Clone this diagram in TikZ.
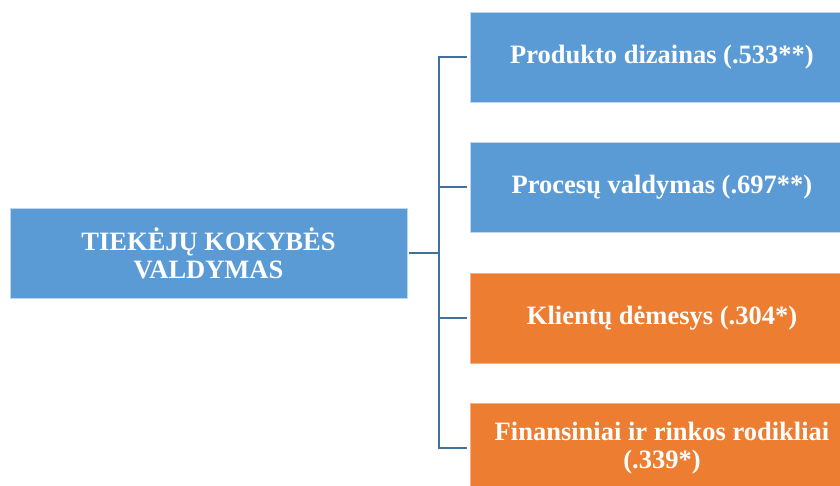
\documentclass[tikz,border=0pt]{standalone}
\usepackage{fontspec}
\setmainfont{Liberation Serif}
\definecolor{boxblue}{HTML}{5B9BD5}
\definecolor{boxorange}{HTML}{ED7D31}
\definecolor{linkblue}{HTML}{41719C}
\definecolor{edgeblue}{HTML}{BDD7EE}
\definecolor{edgeorange}{HTML}{F4B183}
\begin{document}
\begin{tikzpicture}[x=1pt,y=-1pt,
  item/.style={rectangle, minimum width=384pt, minimum height=90pt,
    inner sep=0pt, align=center, text=white,
    font=\fontsize{26.5}{28}\selectfont\bfseries, line width=0.6pt},
  bluebox/.style={item, fill=boxblue, draw=edgeblue},
  orangebox/.style={item, fill=boxorange, draw=edgeorange},
  link/.style={draw=linkblue, line width=2pt}]
  \useasboundingbox (0,0) rectangle (840,486);
  \clip (0,0) rectangle (840,486);

  % main concept
  \node[bluebox, minimum width=397pt] (root) at (208.5,253)
    {TIEKĖJŲ KOKYBĖS\\VALDYMAS};

  % dimensions (running off the right edge)
  \node[bluebox] (p1) at (662,57) {Produkto dizainas (.533**)};
  \node[bluebox] (p2) at (662,187) {Procesų valdymas (.697**)};
  \node[orangebox] (p3) at (662,318) {Klientų dėmesys (.304*)};
  \node[orangebox] (p4) at (662,448) {Finansiniai ir rinkos rodikliai\\(.339*)};

  % tree connectors
  \coordinate (bus) at (439,253);
  \draw[link] ([xshift=2pt]root.east) -- (bus);
  \draw[link] (bus |- p1.west) -- (bus |- p4.west);
  \foreach \n in {p1,p2,p3,p4}
    \draw[link] ([xshift=-1pt]bus |- \n.west) -- ([xshift=-3pt]\n.west);
\end{tikzpicture}
\end{document}
